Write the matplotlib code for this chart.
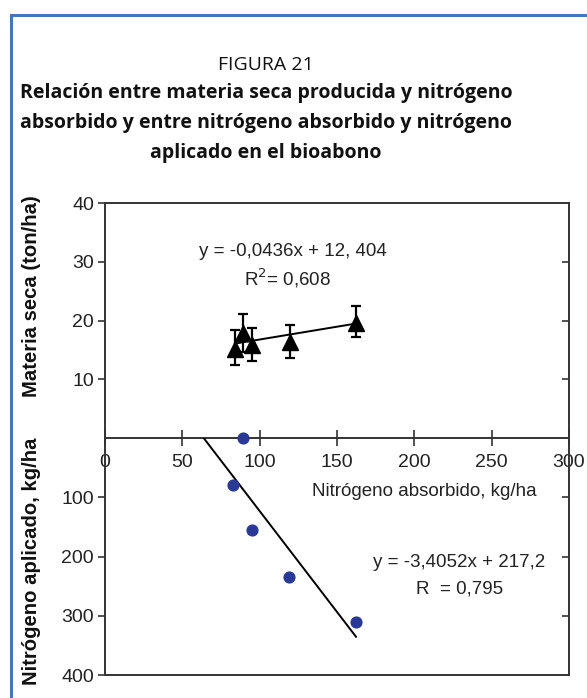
import numpy as np
import matplotlib
matplotlib.use('Agg')
import matplotlib.pyplot as plt
from matplotlib.patches import Rectangle

# materia seca vs nitrogeno absorbido (triangles with error bars)
n_abs_ms = [84, 89, 95.3, 119.6, 162.3]
materia_seca = [15.1, 17.9, 15.8, 16.4, 19.6]
err_low = [2.7, 3.2, 2.7, 2.7, 2.4]
err_high = [3.3, 3.2, 2.9, 2.9, 2.9]

# nitrogeno aplicado vs nitrogeno absorbido (blue dots)
n_abs = [89, 83, 94.8, 119.2, 162.3]
n_aplicado = [0, 79, 156, 234, 311]

# regression coefficients as printed on the chart
ms_slope, ms_icpt = 0.0436, 12.404
na_slope, na_icpt = 3.4052, -217.2

xticks = [0, 50, 100, 150, 200, 250, 300]
yticks_top = [10, 20, 30, 40]
yticks_bot = [100, 200, 300, 400]

W, H = 587, 698
fig = plt.figure(figsize=(W/100, H/100), dpi=100)
fig.patch.set_facecolor('white')

# blue frame (only top and left edges visible)
fig.patches.append(Rectangle((11/W, -0.1), 1.2, 1 - 15/H + 0.1, transform=fig.transFigure,
                             fill=False, edgecolor='#4a74b4', linewidth=2.2))

fig.text(266/W, 1 - 65/H, 'FIGURA 21', ha='center', va='center', fontsize=14,
         family='Open Sans', color='#111')
title = ('Relación entre materia seca producida y nitrógeno\n'
         'absorbido y entre nitrógeno absorbido y nitrógeno\n'
         'aplicado en el bioabono')
fig.text(266/W, 1 - 123/H, title, ha='center', va='center', fontsize=14,
         family='Open Sans', fontweight='bold', linespacing=1.66, color='#111')

L, R = 105/W, 569/W
top_y, mid_y, bot_y = 1 - 203/H, 1 - 438/H, 1 - 675/H
ax1 = fig.add_axes([L, mid_y, R - L, top_y - mid_y])
ax2 = fig.add_axes([L, bot_y, R - L, mid_y - bot_y])

sc = '#333333'
tfs = 14
efs = 13.5
for ax in (ax1, ax2):
    ax.set_xlim(0, 300)
    for s in ax.spines.values():
        s.set_color(sc)
        s.set_linewidth(1.4)
    ax.set_facecolor('none')

ax1.set_ylim(0, 40)
ax2.set_ylim(400, 0)
ax2.spines['top'].set_visible(False)

# top panel
ax1.set_xticks(xticks)
ax1.set_xticklabels([str(t) for t in xticks])
ax1.tick_params(axis='x', direction='inout', length=12, width=1.2, color=sc,
                labelsize=tfs, labelcolor='#222', pad=5.5)
ax1.set_yticks(yticks_top)
ax1.tick_params(axis='y', which='both', left=True, right=False, direction='out', length=5,
                width=1.2, color=sc, labelsize=tfs, labelcolor='#222', pad=3)
for lab in ax1.get_xticklabels() + ax1.get_yticklabels():
    lab.set_family('Liberation Sans')
r1 = ax1.secondary_yaxis('right')
r1.set_yticks([10, 20, 30])
r1.tick_params(direction='in', length=5, width=1.2, color=sc, labelright=False)
r1.spines['right'].set_visible(False)

ax1.errorbar(n_abs_ms, materia_seca, yerr=[err_low, err_high], fmt='^', color='black',
             markersize=12, ecolor='black', elinewidth=1.6, capsize=3.5, capthick=1.6, zorder=3)
xl = np.array([min(n_abs_ms), max(n_abs_ms)])
ax1.plot(xl, ms_slope*xl + ms_icpt, color='black', linewidth=1.4, zorder=2)
ax1.text(121.6, 31.7, 'y = -0,0436x + 12, 404', ha='center', va='center', fontsize=efs,
         family='Liberation Sans', color='#222')
ax1.text(117.7, 27.2, 'R$^2$= 0,608', ha='center', va='center', fontsize=efs,
         family='Liberation Sans', color='#222')

# bottom panel
ax2.set_xticks([])
ax2.set_yticks(yticks_bot)
ax2.tick_params(axis='y', direction='out', length=5, width=1.2, color=sc,
                labelsize=tfs, labelcolor='#222', pad=3)
for lab in ax2.get_yticklabels():
    lab.set_family('Liberation Sans')
r2 = ax2.secondary_yaxis('right')
r2.set_yticks([100, 200, 300])
r2.tick_params(direction='in', length=5, width=1.2, color=sc, labelright=False)
r2.spines['right'].set_visible(False)

ax2.scatter(n_abs, n_aplicado, s=60, color='#2a3896', zorder=3, clip_on=False)
xl2 = np.array([-na_icpt/na_slope, max(n_abs)])
ax2.plot(xl2, na_slope*xl2 + na_icpt, color='black', linewidth=1.4, zorder=2)
ax2.text(229.2, 210.5, 'y = -3,4052x + 217,2', ha='center', va='center', fontsize=efs,
         family='Liberation Sans', color='#222')
ax2.text(229.5, 255.4, 'R  = 0,795', ha='center', va='center', fontsize=efs,
         family='Liberation Sans', color='#222')
ax2.text(206.3, 90.6, 'Nitrógeno absorbido, kg/ha', ha='center', va='center', fontsize=efs,
         family='Liberation Sans', color='#222')

fig.text(32/W, 1 - 296.5/H, 'Materia seca (ton/ha)', rotation=90, ha='center', va='center',
         fontsize=14.6, fontweight='bold', family='Liberation Sans', color='#111')
fig.text(32/W, 1 - 561/H, 'Nitrógeno aplicado, kg/ha', rotation=90, ha='center', va='center',
         fontsize=14.6, fontweight='bold', family='Liberation Sans', color='#111')

fig.savefig('out.png', dpi=100)
